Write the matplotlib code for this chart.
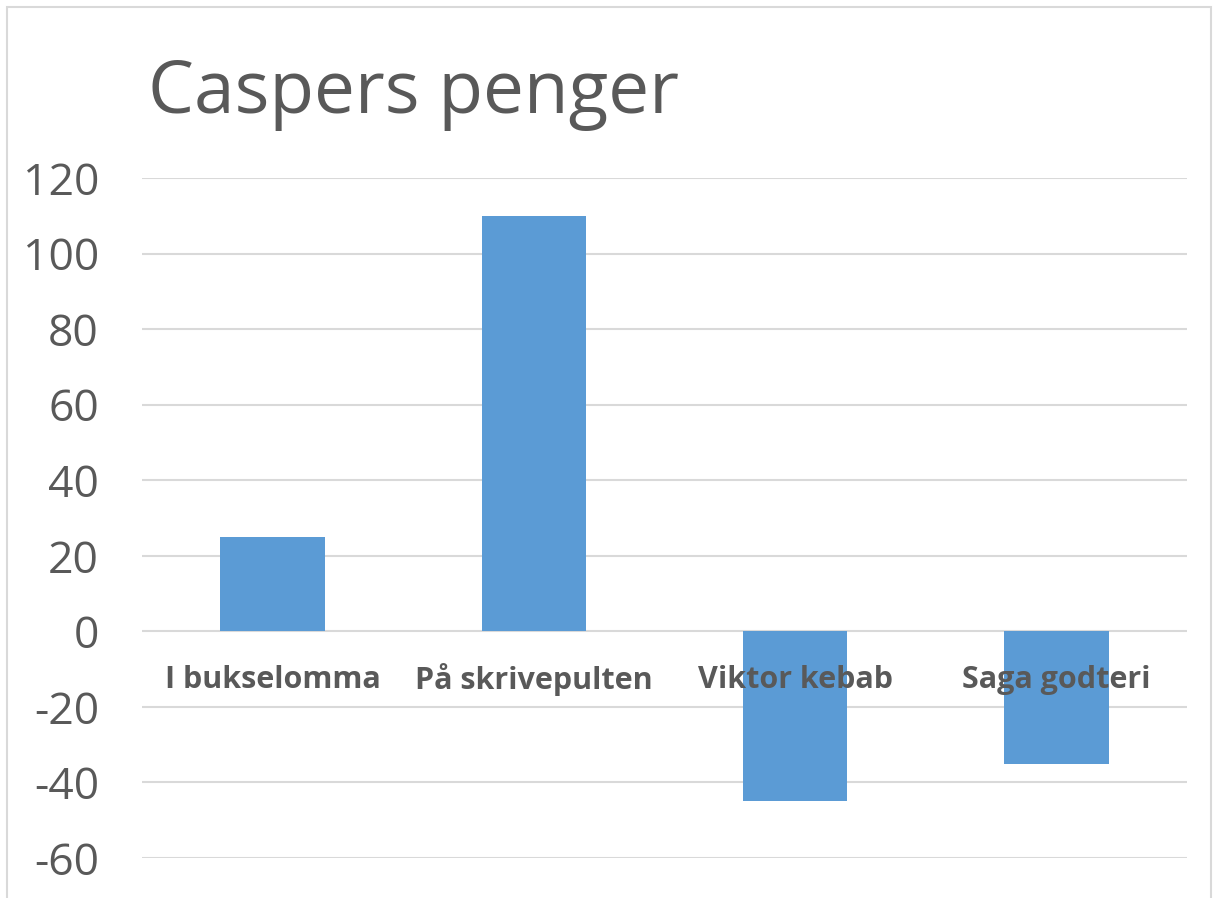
import matplotlib
matplotlib.use("Agg")
import matplotlib.pyplot as plt
from matplotlib.patches import Rectangle

categories = ["I bukselomma", "På skrivepulten", "Viktor kebab", "Saga godteri"]
values = [25, 110, -45, -35]
yticks = [-60, -40, -20, 0, 20, 40, 60, 80, 100, 120]
title = "Caspers penger"

plt.rcParams['font.family'] = ['Open Sans', 'DejaVu Sans']
W, H = 1213, 898
fig = plt.figure(figsize=(W/100, H/100), dpi=100)
fig.patch.set_facecolor('white')

# chart border
fig.patches.append(Rectangle((7/W, -0.05), (1211-7)/W, 1 - 7/H + 0.05,
                             transform=fig.transFigure, fill=False,
                             edgecolor='#d9d9d9', linewidth=1.5))

ax = fig.add_axes([142/W, 1-858/H, (1187-142)/W, (858-178)/H])
x = list(range(len(categories)))
ax.bar(x, values, width=0.4, color='#5b9bd5', zorder=3)
ax.set_xlim(-0.5, len(categories)-0.5)
ax.set_ylim(-60, 120)
ax.set_yticks(yticks)
ax.set_yticklabels([str(v) for v in yticks])
ax.tick_params(axis='y', length=0, pad=31, labelsize=32, labelcolor='#595959')
ax.set_xticks([])
for s in ax.spines.values():
    s.set_visible(False)
ax.grid(axis='y', color='#d9d9d9', linewidth=1.5, zorder=0)

for i, c in enumerate(categories):
    ax.annotate(c, xy=(i, 0), xytext=(0, -35), textcoords='offset points',
                ha='center', va='center', fontsize=22, fontweight='bold',
                color='#595959', zorder=4)

fig.text(148/W, 1-113/H, title, fontsize=52.5, color='#595959',
         ha='left', va='baseline')

fig.savefig('out.png', dpi=100)
